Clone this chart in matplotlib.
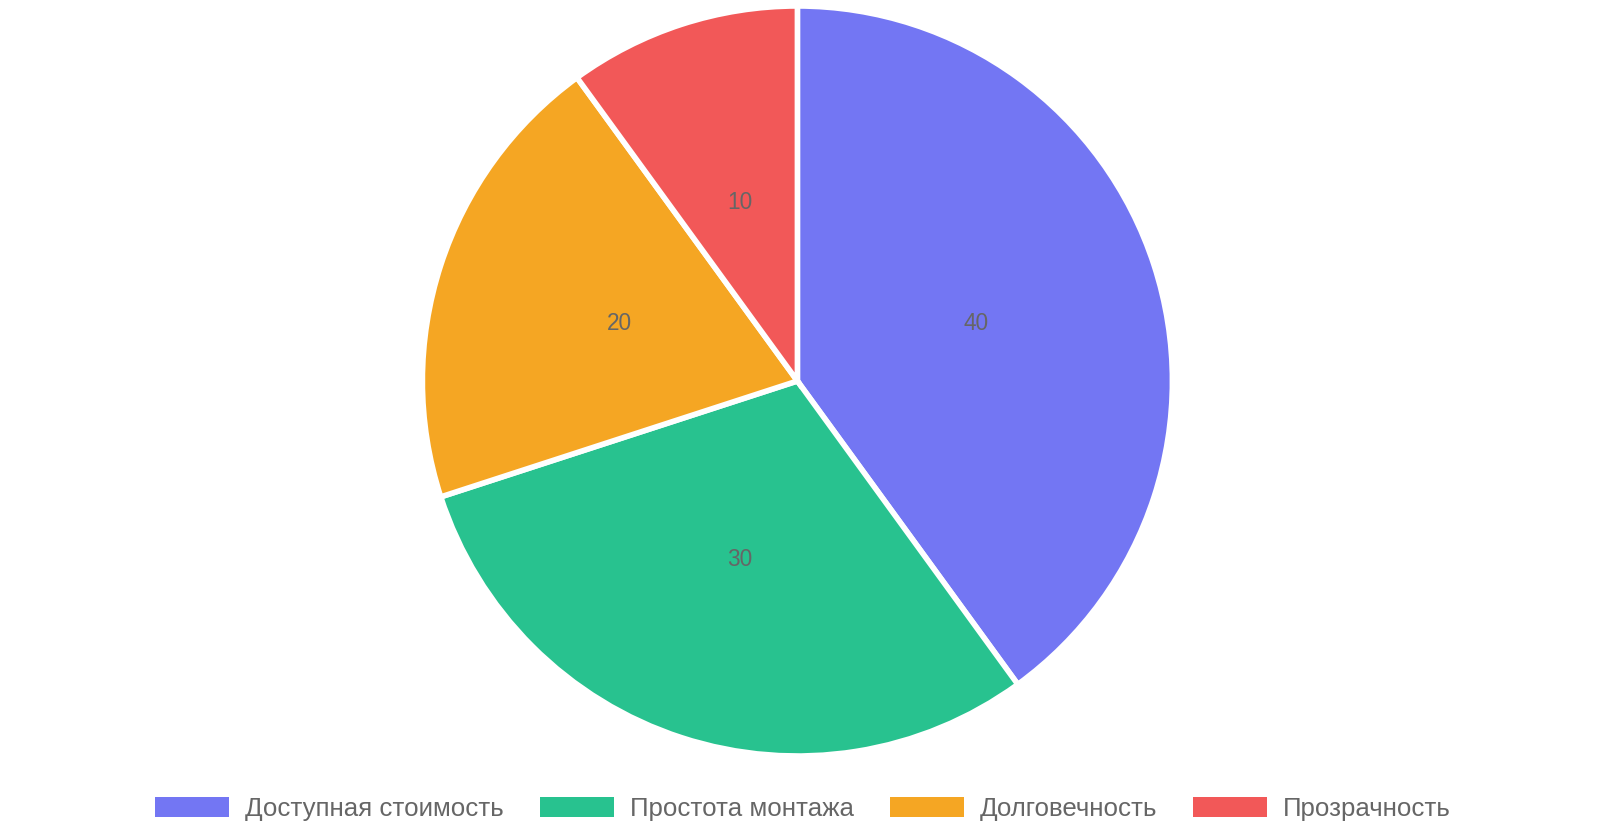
import matplotlib.pyplot as plt
from matplotlib.patches import Patch

plt.rcParams['font.family'] = ['Liberation Sans', 'DejaVu Sans']

labels = ['Доступная стоимость', 'Простота монтажа', 'Долговечность', 'Прозрачность']
values = [40, 30, 20, 10]
colors = ['#7376F3', '#28C28F', '#F5A623', '#F25858']

fig = plt.figure(figsize=(16, 8.4), dpi=100)
ax = fig.add_axes([0.264, 0.1, 0.46875, 0.892857])

wedges, texts = ax.pie(values, colors=colors, startangle=90, counterclock=False,
                       labels=[str(v) for v in values], labeldistance=0.5,
                       wedgeprops=dict(edgecolor='white', linewidth=4),
                       textprops=dict(color='#666666', fontsize=16.3))
for t in texts:
    t.set_horizontalalignment('center')
    t.set_verticalalignment('center')
ax.set_xlim(-1.0, 1.0)
ax.set_ylim(-1.0, 1.0)
ax.set_aspect('equal')

handles = [Patch(facecolor=c, edgecolor='none') for c in colors]
fig.legend(handles, labels, loc='center', bbox_to_anchor=(803 / 1600, 1 - 809 / 840),
           ncol=4, frameon=False, fontsize=18.6, labelcolor='#666666',
           handlelength=2.86, handleheight=0.77, handletextpad=0.62,
           columnspacing=1.4)

fig.savefig('out.png', dpi=100)
